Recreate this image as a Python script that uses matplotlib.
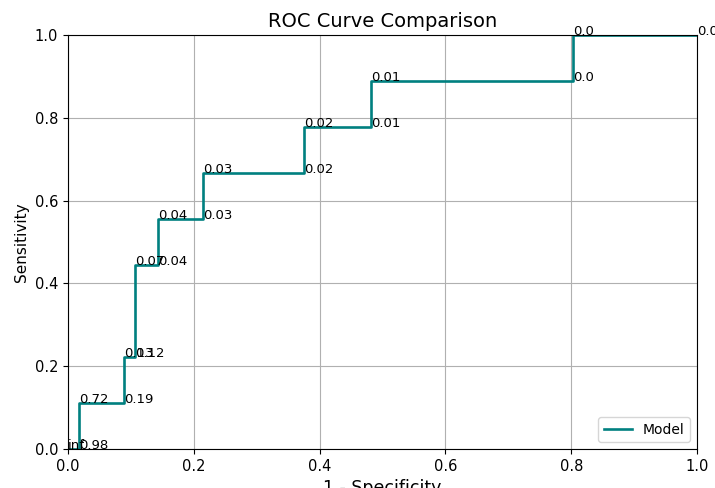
import matplotlib
matplotlib.use("Agg")
import matplotlib.pyplot as plt

fpr = [0.0, 1/56, 1/56, 5/56, 5/56, 6/56, 6/56, 8/56, 8/56, 12/56, 12/56,
       21/56, 21/56, 27/56, 27/56, 45/56, 45/56, 1.0]
tpr = [0.0, 0.0, 1/9, 1/9, 2/9, 2/9, 4/9, 4/9, 5/9, 5/9, 6/9,
       6/9, 7/9, 7/9, 8/9, 8/9, 1.0, 1.0]
thresholds = ["inf", "0.98", "0.72", "0.19", "0.13", "0.12", "0.07", "0.04",
              "0.04", "0.03", "0.03", "0.02", "0.02", "0.01", "0.01", "0.0",
              "0.0", "0.0"]

fig = plt.figure(figsize=(7.15, 4.88), dpi=100)
ax = fig.add_axes([68/715, 1-449/488, (697-68)/715, (449-35)/488])
ax.plot(fpr, tpr, color="teal", lw=1.9, label="Model")
for x, y, t in zip(fpr, tpr, thresholds):
    ax.text(x, y, t, fontsize=9.5)
ax.set_xlim(0, 1)
ax.set_ylim(0, 1)
ax.grid(True)
ax.set_title("ROC Curve Comparison", fontsize=14)
ax.set_xlabel("1 - Specificity", fontsize=12.5)
ax.set_ylabel("Sensitivity", fontsize=11)
ax.tick_params(labelsize=10.5)
ax.legend(loc="lower right", fontsize=10)
fig.savefig("out.png", dpi=100)
